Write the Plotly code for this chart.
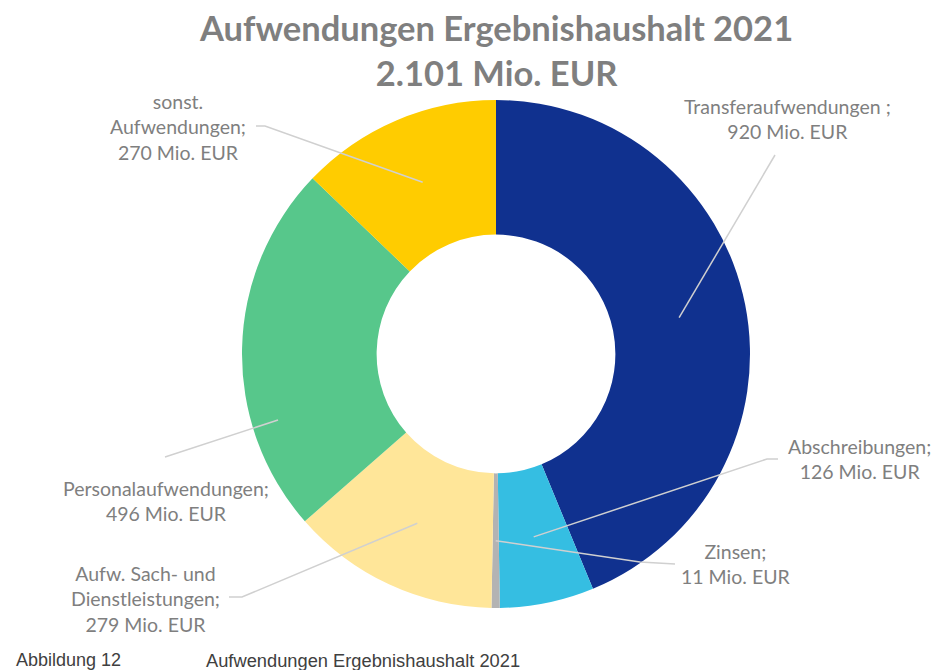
import math
import plotly.graph_objects as go

# ---- data ----
categories = ["Transferaufwendungen", "Abschreibungen", "Zinsen",
              "Aufw. Sach- und Dienstleistungen", "Personalaufwendungen",
              "sonst. Aufwendungen"]
values = [920, 126, 11, 279, 496, 270]
label_texts = [
    "Transferaufwendungen ;<br>920 Mio. EUR",
    "Abschreibungen;<br>126 Mio. EUR",
    "Zinsen;<br>11 Mio. EUR",
    "Aufw. Sach- und<br>Dienstleistungen;<br>279 Mio. EUR",
    "Personalaufwendungen;<br>496 Mio. EUR",
    "sonst.<br>Aufwendungen;<br>270 Mio. EUR",
]
colors = ["#10318F", "#35BEE2", "#B3B3B3", "#FFE699", "#57C78B", "#FFCC00"]
title_text = "Aufwendungen Ergebnishaushalt 2021<br>2.101 Mio. EUR"
footer_left = "Abbildung 12"
footer_right = "Aufwendungen Ergebnishaushalt 2021"

# ---- layout constants (pixels) ----
W, H = 935, 670
CX, CY, R = 496, 354, 254
HOLE = 0.47

def px(x):
    return x / W

def py(y):
    return 1 - y / H

# label placement: text centre, leader start point(s) near label, optional tip override
label_layout = [
    dict(tx=787, ty=119, pts=[(775, 155)]),
    dict(tx=859, ty=459, pts=[(778, 459), (767, 459)]),
    dict(tx=736, ty=564, pts=[(675, 564), (640, 562)]),
    dict(tx=145, ty=599, pts=[(229, 597), (242, 597)]),
    dict(tx=166, ty=501, pts=[(165, 457)], tip=(278, 420)),
    dict(tx=178, ty=127, pts=[(256, 126), (265, 126)]),
]

fig = go.Figure()
fig.add_trace(go.Pie(
    labels=categories, values=values, sort=False, direction="clockwise",
    rotation=0, hole=HOLE, textinfo="none",
    marker=dict(colors=colors, line=dict(width=0)),
    domain=dict(x=[px(CX - R), px(CX + R)], y=[py(CY + R), py(CY - R)]),
    showlegend=False,
))

total = sum(values)
shapes = []
annotations = []
cum = 0
for v, txt, lay in zip(values, label_texts, label_layout):
    mid = (cum + v / 2) / total * 2 * math.pi
    cum += v
    rr = R * (1 + HOLE) / 2
    tip = lay.get("tip", (CX + rr * math.sin(mid), CY - rr * math.cos(mid)))
    pts = lay["pts"] + [tip]
    path = "M " + " L ".join(f"{px(x):.5f},{py(y):.5f}" for x, y in pts)
    shapes.append(dict(type="path", path=path, xref="paper", yref="paper",
                       line=dict(color="#D0D0D0", width=1.5)))
    annotations.append(dict(x=px(lay["tx"]), y=py(lay["ty"]), xref="paper",
                            yref="paper", text=txt, showarrow=False,
                            xanchor="center", yanchor="middle", align="center",
                            font=dict(family="Lato", size=19.5, color="#7F7F7F")))

annotations.append(dict(x=px(496), y=py(50), xref="paper", yref="paper",
                        text=f"<b>{title_text}</b>", showarrow=False,
                        xanchor="center", yanchor="middle", align="center",
                        font=dict(family="Lato", size=34.5, color="#7F7F7F")))
annotations.append(dict(x=px(14), y=py(660), xref="paper", yref="paper",
                        text=footer_left, showarrow=False, xanchor="left",
                        yanchor="middle",
                        font=dict(family="Liberation Sans", size=18, color="#404040")))
annotations.append(dict(x=px(204), y=py(660), xref="paper", yref="paper",
                        text=footer_right, showarrow=False, xanchor="left",
                        yanchor="middle",
                        font=dict(family="Liberation Sans", size=18.3, color="#404040")))

fig.update_layout(
    width=W, height=H, margin=dict(l=0, r=0, t=0, b=0),
    paper_bgcolor="white", plot_bgcolor="white",
    shapes=shapes, annotations=annotations,
)
fig.write_html("out.html", config={"displayModeBar": False},
               post_script="document.body.style.margin='0px';document.body.style.overflow='hidden';")
